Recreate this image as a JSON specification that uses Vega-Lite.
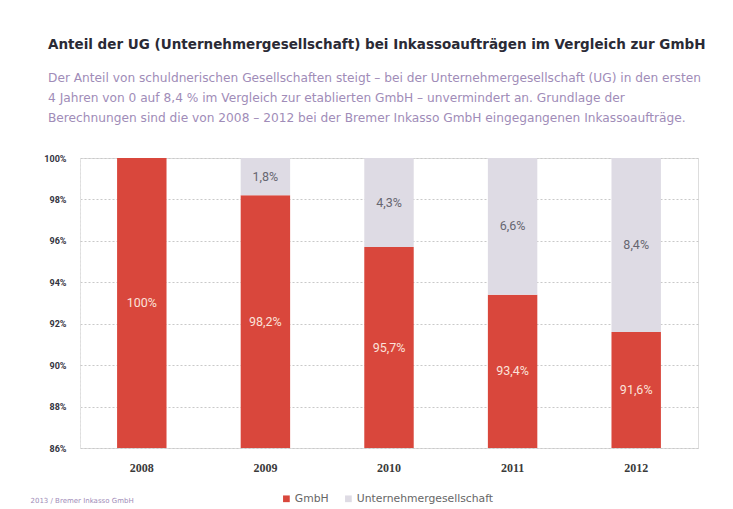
{
  "$schema": "https://vega.github.io/schema/vega-lite/v6.json",
  "autosize": {"type": "none"},
  "width": 618,
  "height": 290,
  "padding": {"left": 80, "top": 158, "right": 35, "bottom": 61},
  "background": "white",
  "title": {
    "text": "Anteil der UG (Unternehmergesellschaft) bei Inkassoaufträgen im Vergleich zur GmbH",
    "subtitle": [
      "Der Anteil von schuldnerischen Gesellschaften steigt – bei der Unternehmergesellschaft (UG) in den ersten",
      "4 Jahren von 0 auf 8,4 % im Vergleich zur etablierten GmbH – unvermindert an. Grundlage der",
      "Berechnungen sind die von 2008 – 2012 bei der Bremer Inkasso GmbH eingegangenen Inkassoaufträge."
    ],
    "anchor": "start",
    "frame": "group",
    "dx": -32,
    "offset": 30,
    "font": "DejaVu Sans",
    "fontSize": 13.5,
    "fontWeight": "bold",
    "color": "#2a2a35",
    "subtitleFont": "DejaVu Sans",
    "subtitleFontSize": 12.2,
    "subtitleColor": "#a08cb8",
    "subtitlePadding": 20,
    "subtitleLineHeight": 20
  },
  "data": {
    "values": [
      {"year": "2008", "series": "GmbH", "value": 100},
      {"year": "2008", "series": "Unternehmergesellschaft", "value": 0},
      {"year": "2009", "series": "GmbH", "value": 98.2},
      {"year": "2009", "series": "Unternehmergesellschaft", "value": 1.8},
      {"year": "2010", "series": "GmbH", "value": 95.7},
      {"year": "2010", "series": "Unternehmergesellschaft", "value": 4.3},
      {"year": "2011", "series": "GmbH", "value": 93.4},
      {"year": "2011", "series": "Unternehmergesellschaft", "value": 6.6},
      {"year": "2012", "series": "GmbH", "value": 91.6},
      {"year": "2012", "series": "Unternehmergesellschaft", "value": 8.4}
    ]
  },
  "transform": [
    {"stack": "value", "groupby": ["year"], "sort": [{"field": "series", "order": "ascending"}], "as": ["v0", "v1"]},
    {"calculate": "max(datum.v0, 86)", "as": "lo"},
    {"calculate": "(datum.lo + datum.v1) / 2", "as": "mid"},
    {"calculate": "replace(format(datum.value, '.1~f'), '.', ',') + '%'", "as": "label"}
  ],
  "encoding": {
    "x": {
      "field": "year",
      "type": "nominal",
      "sort": null,
      "scale": {"paddingInner": 0.6, "paddingOuter": 0.3},
      "axis": {
        "labelAngle": 0,
        "ticks": false,
        "domain": false,
        "labelPadding": 14,
        "labelFont": "Liberation Serif",
        "labelFontSize": 12,
        "labelFontWeight": "bold",
        "labelColor": "#3a3a3a",
        "title": "2013 / Bremer Inkasso GmbH",
        "titleAnchor": "start",
        "titleAlign": "left",
        "titleX": -50,
        "titleY": 48,
        "titleFont": "DejaVu Sans",
        "titleFontSize": 7,
        "titleFontWeight": "normal",
        "titleColor": "#a08cb8"
      }
    }
  },
  "layer": [
    {
      "mark": {"type": "bar"},
      "encoding": {
        "y": {
          "field": "v1",
          "type": "quantitative",
          "scale": {"domain": [86, 100], "nice": false, "zero": false},
          "axis": {
            "values": [86, 88, 90, 92, 94, 96, 98, 100],
            "labelExpr": "datum.value + '%'",
            "title": null,
            "ticks": false,
            "domain": true,
            "domainColor": "#e4e4e4",
            "domainDash": [2, 2],
            "grid": true,
            "gridColor": "#c9c9c9",
            "gridDash": [2, 2],
            "labelPadding": 14,
            "labelFont": "Roboto",
            "labelFontSize": 9,
            "labelFontWeight": "bold",
            "labelColor": "#333340"
          }
        },
        "y2": {"field": "lo"},
        "color": {
          "field": "series",
          "type": "nominal",
          "scale": {"domain": ["GmbH", "Unternehmergesellschaft"], "range": ["#d9473c", "#dedbe4"]},
          "legend": {
            "orient": "none",
            "legendX": 201,
            "legendY": 335,
            "direction": "horizontal",
            "title": null,
            "symbolType": "square",
            "symbolSize": 45,
            "symbolStrokeWidth": 0,
            "labelFont": "DejaVu Sans",
            "labelFontSize": 10.8,
            "labelColor": "#666666",
            "columnPadding": 14,
            "labelOffset": 3
          }
        }
      }
    },
    {
      "transform": [{"filter": "datum.value > 0"}],
      "mark": {"type": "text", "font": "Roboto", "fontSize": 12.5},
      "encoding": {
        "y": {"field": "mid", "type": "quantitative"},
        "text": {"field": "label"},
        "color": {
          "condition": {"test": "datum.series == 'GmbH'", "value": "#fbe2da"},
          "value": "#666670"
        }
      }
    }
  ]
}
